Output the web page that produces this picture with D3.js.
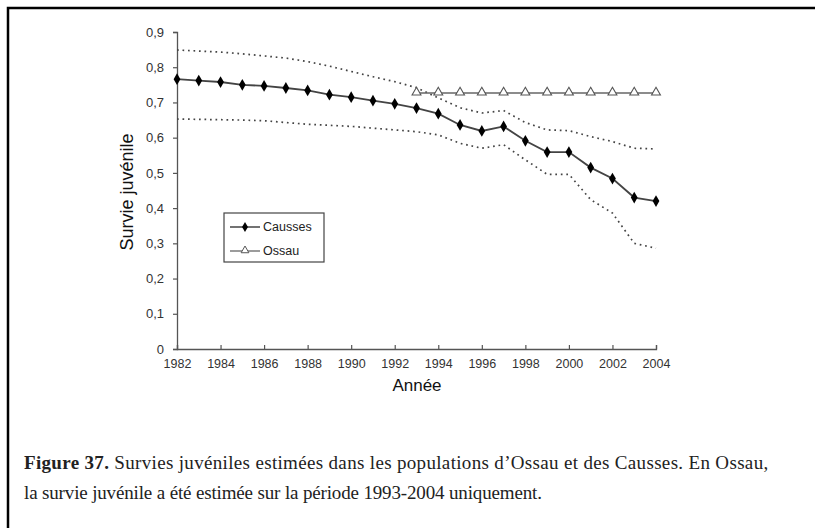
<!DOCTYPE html>
<html><head><meta charset="utf-8">
<script src="https://cdn.jsdelivr.net/npm/d3@7"></script>
<style>body{margin:0;background:#fff}svg{display:block}</style>
</head><body>
<svg id="c" width="815" height="528"></svg>
<script>
const years = d3.range(1982, 2005);
const causses = [0.766,0.762,0.758,0.750,0.747,0.741,0.734,0.722,0.715,0.705,0.696,0.684,0.668,0.636,0.619,0.632,0.591,0.559,0.559,0.515,0.484,0.430,0.420];
const causesUpper = [0.849,0.846,0.843,0.838,0.832,0.826,0.816,0.803,0.788,0.773,0.759,0.742,0.713,0.685,0.670,0.677,0.643,0.622,0.620,0.603,0.589,0.570,0.568];
const causesLower = [0.653,0.652,0.651,0.650,0.648,0.643,0.638,0.635,0.632,0.627,0.622,0.617,0.608,0.584,0.570,0.580,0.537,0.496,0.496,0.424,0.386,0.300,0.286];
const ossauYears = d3.range(1993, 2005);
const ossau = [0.727,0.727,0.727,0.727,0.727,0.727,0.727,0.727,0.727,0.727,0.727,0.727];
const yTicks = [0,0.1,0.2,0.3,0.4,0.5,0.6,0.7,0.8,0.9];
const xTicks = d3.range(1982, 2005, 2);
const caption1 = "Survies juvéniles estimées dans les populations d’Ossau et des Causses. En Ossau,";
const caption2 = "la survie juvénile a été estimée sur la période 1993-2004 uniquement.";

const svg = d3.select("#c");
// frame
svg.append("path").attr("d","M8,528 V8 H815").attr("fill","none").attr("stroke","#000").attr("stroke-width",2.5);

const x = d3.scaleLinear().domain([1982,2004]).range([177,656]);
const y = d3.scaleLinear().domain([0,0.9]).range([349,32]);
const fmt = d => d===0 ? "0" : d3.format(".1f")(d).replace(".", ",");

const yAxis = svg.append("g").attr("transform","translate(177,0)")
  .call(d3.axisLeft(y).tickValues(yTicks).tickFormat(fmt).tickSize(4).tickPadding(9));
const xAxis = svg.append("g").attr("transform","translate(0,349)")
  .call(d3.axisBottom(x).tickValues(xTicks).tickFormat(d3.format("d")).tickSize(-4).tickPadding(10));
[yAxis,xAxis].forEach(g=>{
  g.select(".domain").attr("stroke","#555").attr("stroke-width",1.3);
  g.selectAll(".tick line").attr("stroke","#555").attr("stroke-width",1.2);
  g.selectAll("text").attr("fill","#333").style("font-family","Liberation Sans, Arial");
});
yAxis.selectAll("text").style("font-size","13px");
xAxis.selectAll("text").style("font-size","12.5px").attr("dy","0.71em");

const line = d3.line().x((d,i)=>x(years[i])).y(d=>y(d));
svg.append("path").datum(causesUpper).attr("d",line).attr("fill","none")
  .attr("stroke","#444").attr("stroke-width",1.7).attr("stroke-dasharray","1.7,3.8");
svg.append("path").datum(causesLower).attr("d",line).attr("fill","none")
  .attr("stroke","#444").attr("stroke-width",1.7).attr("stroke-dasharray","1.7,3.8");

const lineO = d3.line().x((d,i)=>x(ossauYears[i])).y(d=>y(d));
svg.append("path").datum(ossau).attr("d",lineO).attr("fill","none").attr("stroke","#666").attr("stroke-width",1.4);
const tri = d3.symbol().type(d3.symbolTriangle).size(34);
svg.selectAll(".tri").data(ossau).join("path").attr("class","tri")
  .attr("transform",(d,i)=>`translate(${x(ossauYears[i])},${y(d)-0.5})`)
  .attr("d",tri).attr("fill","#fff").attr("stroke","#555").attr("stroke-width",1.1);

svg.append("path").datum(causses).attr("d",line).attr("fill","none").attr("stroke","#444").attr("stroke-width",1.8);
const dia = d3.symbol().type(d3.symbolDiamond).size(40);
svg.selectAll(".dia").data(causses).join("path").attr("class","dia")
  .attr("transform",(d,i)=>`translate(${x(years[i])},${y(d)})`)
  .attr("d",dia).attr("fill","#000");

// legend
const lg = svg.append("g");
lg.append("rect").attr("x",224).attr("y",213).attr("width",100).attr("height",49)
  .attr("fill","#fff").attr("stroke","#444").attr("stroke-width",1.2);
lg.append("line").attr("x1",230).attr("x2",260).attr("y1",227).attr("y2",227).attr("stroke","#444").attr("stroke-width",1.5);
lg.append("path").attr("transform","translate(245,227)").attr("d",d3.symbol().type(d3.symbolDiamond).size(30)).attr("fill","#000");
lg.append("line").attr("x1",230).attr("x2",260).attr("y1",251).attr("y2",251).attr("stroke","#666").attr("stroke-width",1.3);
lg.append("path").attr("transform","translate(245,250.5)").attr("d",d3.symbol().type(d3.symbolTriangle).size(26)).attr("fill","#fff").attr("stroke","#555").attr("stroke-width",1);
lg.selectAll("text").data(["Causses","Ossau"]).join("text")
  .attr("x",263).attr("y",(d,i)=>227+i*24).attr("dy","0.35em")
  .style("font-family","Liberation Sans, Arial").style("font-size","12.5px").attr("fill","#222").text(d=>d);

// axis titles
svg.append("text").attr("transform","translate(133,192) rotate(-90)").attr("text-anchor","middle")
  .style("font-family","Liberation Sans, Arial").style("font-size","18px").attr("fill","#111").text("Survie juvénile");
svg.append("text").attr("x",417).attr("y",391).attr("text-anchor","middle")
  .style("font-family","Liberation Sans, Arial").style("font-size","17px").attr("fill","#111").text("Année");

// caption
const cap = svg.append("g").style("font-family","Liberation Serif, Times New Roman").style("font-size","19px").attr("fill","#222");
const t1 = cap.append("text").attr("x",24).attr("y",469).style("letter-spacing","0.33px");
t1.append("tspan").style("font-weight","bold").text("Figure 37.");
t1.append("tspan").text(" " + caption1);
cap.append("text").attr("x",24).attr("y",499).style("letter-spacing","-0.15px").text(caption2);
</script>
</body></html>
